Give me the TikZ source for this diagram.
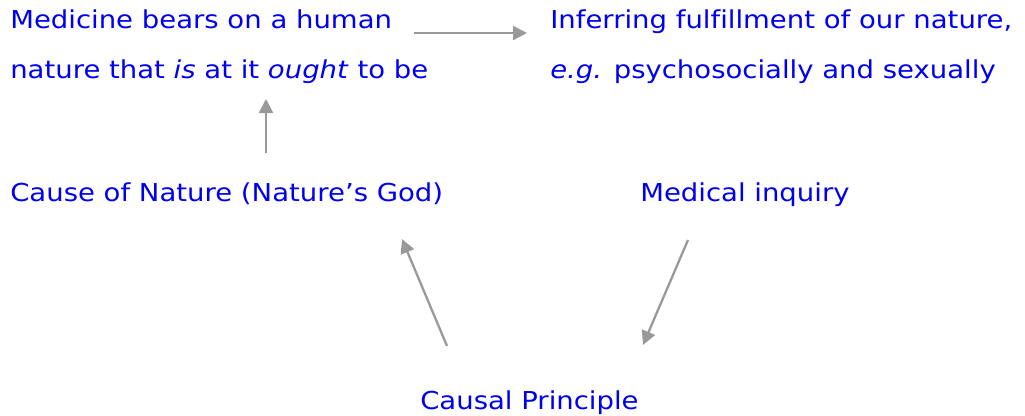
\documentclass[tikz,border=0pt]{standalone}
\usepackage{fontspec}
\setmainfont{DejaVu Sans}[FakeStretch=1.115,Ligatures=NoCommon]
\usetikzlibrary{arrows.meta}
\definecolor{txtblue}{HTML}{0000F0}
\definecolor{arrgray}{HTML}{999999}
\begin{document}
\begin{tikzpicture}[x=0.75pt,y=-0.75pt,
  lbl/.style={inner sep=0pt, anchor=base west, text=txtblue, font=\fontsize{18.5}{22}\selectfont},
  conn/.style={draw=arrgray, line width=1.7pt, -{Triangle[length=10.5pt,width=10.5pt]}}]
\useasboundingbox (0,0) rectangle (1025,415);
\node[lbl] (m1) at (10,28) {Medicine bears on a human};
\node[lbl] (m2) at (10,78) {nature that \textit{is} at it \textit{ought} to be};
\node[lbl] (i1) at (550,28) {Inferring fulfillment of our nature,};
\node[lbl] (i2) at (550,78) {\textit{e.g.} psychosocially and sexually};
\node[lbl] (cn) at (10,201) {Cause of Nature (Nature’s God)};
\node[lbl] (mi) at (640,201) {Medical inquiry};
\node[lbl] (cp) at (420,409) {Causal Principle};
\coordinate (a1s) at (414,33);
\coordinate (a1e) at (527,33);
\coordinate (a2s) at (266,153);
\coordinate (a2e) at (266,99);
\coordinate (a3s) at (447,346);
\coordinate (a3e) at (402,239);
\coordinate (a4s) at (688,240);
\coordinate (a4e) at (643,345);
\draw[conn] (a1s) -- (a1e);
\draw[conn] (a2s) -- (a2e);
\draw[conn] (a3s) -- (a3e);
\draw[conn] (a4s) -- (a4e);
\end{tikzpicture}
\end{document}
